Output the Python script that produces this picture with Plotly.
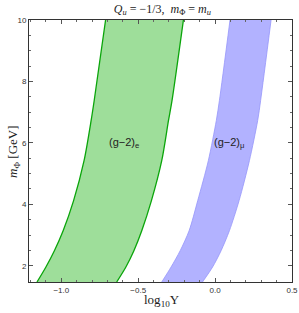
import plotly.graph_objects as go

# m_Phi [GeV] sample heights
m_phi = [1.47, 1.96, 2.49, 3.14, 4.12, 5.42, 6.73, 7.38, 10.0]
# (g-2)_e band boundaries in log10 Y
ge_left = [-1.158, -1.100, -1.045, -0.988, -0.920, -0.852, -0.806, -0.786, -0.712]
ge_right = [-0.640, -0.580, -0.528, -0.477, -0.414, -0.347, -0.303, -0.280, -0.206]
# (g-2)_mu band boundaries
gmu_left = [-0.347, -0.286, -0.227, -0.169, -0.113, -0.044, 0.008, 0.028, 0.097]
gmu_right = [-0.082, -0.016, 0.039, 0.093, 0.156, 0.223, 0.277, 0.296, 0.364]

x_ticks = [-1.0, -0.5, 0.0, 0.5]
x_tick_labels = ["\u22121.0", "\u22120.5", "0.0", "0.5"]
y_ticks = [2, 4, 6, 8, 10]

green_fill = "rgb(158,222,154)"
green_line = "rgb(10,165,10)"
blue_fill = "rgb(178,178,255)"
blue_line = "rgb(150,150,250)"

line_shape = dict(shape="spline", smoothing=0.8)

fig = go.Figure()
# green band
fig.add_trace(go.Scatter(x=ge_left, y=m_phi, mode="lines",
                         line=dict(color=green_line, width=1.3, **line_shape),
                         hoverinfo="skip", showlegend=False))
fig.add_trace(go.Scatter(x=ge_right, y=m_phi, mode="lines", fill="tonextx",
                         fillcolor=green_fill,
                         line=dict(color=green_line, width=1.3, **line_shape),
                         hoverinfo="skip", showlegend=False))
# blue band
fig.add_trace(go.Scatter(x=gmu_left, y=m_phi, mode="lines",
                         line=dict(color=blue_line, width=0.8, **line_shape),
                         hoverinfo="skip", showlegend=False))
fig.add_trace(go.Scatter(x=gmu_right, y=m_phi, mode="lines", fill="tonextx",
                         fillcolor=blue_fill,
                         line=dict(color=blue_line, width=0.8, **line_shape),
                         hoverinfo="skip", showlegend=False))

fig.add_annotation(x=-0.594, y=6.0, text="(g\u22122)<sub>e</sub>", showarrow=False,
                   font=dict(family="Liberation Sans, Arial", size=11, color="#222"))
fig.add_annotation(x=0.09, y=6.0, text="(g\u22122)<sub>\u03bc</sub>", showarrow=False,
                   font=dict(family="Liberation Sans, Arial", size=11, color="#222"))

# axis titles as annotations for precise placement
fig.add_annotation(xref="paper", yref="paper", x=0.506, y=-0.072,
                   xanchor="center", yanchor="middle",
                   text="log<sub>10</sub>Y", showarrow=False,
                   font=dict(family="Liberation Serif, Times New Roman", size=13, color="#222"))
fig.add_annotation(xref="paper", yref="paper", x=-0.061, y=0.5, textangle=-90,
                   xanchor="center", yanchor="middle",
                   text="<i>m</i><sub>\u03a6</sub> [GeV]", showarrow=False,
                   font=dict(family="Liberation Serif, Times New Roman", size=13, color="#222"))

axis_common = dict(showline=True, linecolor="#333", linewidth=1, mirror="allticks",
                   ticks="inside", ticklen=4, tickcolor="#555", showgrid=False,
                   zeroline=False, automargin=False,
                   tickfont=dict(family="Liberation Sans, Arial", size=8, color="#333"))

fig.update_layout(
    width=299, height=313,
    margin=dict(l=29, r=7, t=19.5, b=31),
    paper_bgcolor="white", plot_bgcolor="white",
    title=dict(text="<i>Q</i><sub><i>u</i></sub> = \u22121/3,  <i>m</i><sub>\u03a6</sub> = <i>m</i><sub><i>u</i></sub>",
               x=0.543, xanchor="center", y=0.973, yanchor="middle",
               font=dict(family="Liberation Serif, Times New Roman", size=12, color="#222")),
    xaxis=dict(range=[-1.21, 0.5], tickvals=x_ticks, ticktext=x_tick_labels,
               minor=dict(dtick=0.1, tick0=0, ticks="inside", ticklen=2, tickcolor="#666"),
               **axis_common),
    yaxis=dict(range=[1.47, 10], tickvals=y_ticks,
               minor=dict(dtick=0.5, tick0=0, ticks="inside", ticklen=2, tickcolor="#666"),
               **axis_common),
)

fig.write_html("out.html", config={"displayModeBar": False},
               post_script="document.body.style.margin='0';document.body.style.overflow='hidden';")
